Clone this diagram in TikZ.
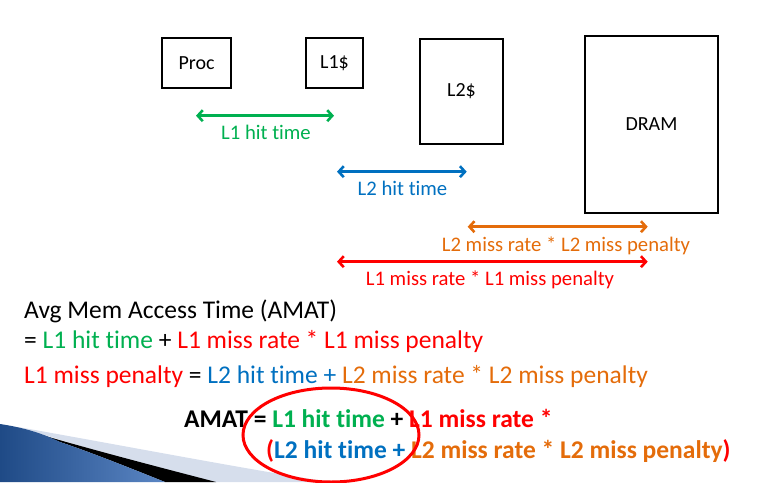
\documentclass[tikz,border=0pt]{standalone}
\usepackage{fontspec}
\setmainfont{Carlito}[Ligatures={NoCommon}]
\usetikzlibrary{arrows.meta}
\definecolor{grn}{HTML}{00B050}
\definecolor{rd}{HTML}{FF0000}
\definecolor{blu}{HTML}{0070C0}
\definecolor{org}{HTML}{E46C0A}
\definecolor{swdark}{HTML}{1F4A86}
\definecolor{swlight}{HTML}{5B86C4}
\definecolor{swband}{HTML}{D6DEEC}
\tikzset{
  box/.style={draw=black, line width=2pt, inner sep=0pt, font=\fontsize{20}{24}\selectfont},
  harrow/.style={line width=2.6pt, {Straight Barb[length=5pt,width=11pt]}-{Straight Barb[length=5pt,width=11pt]}},
  lbl/.style={anchor=base, inner sep=0pt, font=\fontsize{20.7}{24}\selectfont},
  eqn/.style={anchor=base west, inner sep=0pt, font=\fontsize{25.5}{28}\selectfont},
  beqn/.style={anchor=base west, inner sep=0pt, font=\fontsize{25.5}{28}\selectfont\bfseries},
}
\begin{document}
\begin{tikzpicture}[x=1pt,y=-1pt]
\useasboundingbox (0,0) rectangle (763,482);
% swoosh decoration
\fill[swband] (18,427) .. controls (120,445) and (250,470) .. (330,482) -- (200,482) -- cycle;
\fill[black] (42,435) .. controls (100,452) and (170,470) .. (216,482) -- (165,482) .. controls (130,468) and (90,452) .. (60,442) -- cycle;
\shade[left color=swdark, right color=swlight] (0,424) .. controls (20,427) and (40,432) .. (60,442) .. controls (90,452) and (130,468) .. (165,482) -- (0,482) -- cycle;
% boxes
\node[box, minimum width=69pt, minimum height=50pt] (proc) at (196.5,63) {Proc};
\node[box, minimum width=57pt, minimum height=50pt] (l1) at (334.5,63) {L1\$};
\node[box, minimum width=83pt, minimum height=105pt] (l2) at (461.5,91.5) {L2\$};
\node[box, minimum width=133pt, minimum height=177pt] (dram) at (651.5,124.5) {DRAM};
% arrow end points
\coordinate (ga) at (196,115.7);
\coordinate (gb) at (334,115.7);
\coordinate (ba) at (337,171.7);
\coordinate (bb) at (466.7,171.7);
\coordinate (oa) at (467.7,226.7);
\coordinate (ob) at (647.7,226.7);
\coordinate (ra) at (337,261.7);
\coordinate (rb) at (647.7,261.7);
\draw[harrow, grn] (ga) -- (gb);
\draw[harrow, blu] (ba) -- (bb);
\draw[harrow, org] (oa) -- (ob);
\draw[harrow, rd] (ra) -- (rb);
\node[lbl, text=grn] (gl) at (266,139) {L1 hit time};
\node[lbl, text=blu] (bl) at (402.5,195) {L2 hit time};
\node[lbl, text=org] (ol) at (566,251.5) {L2 miss rate * L2 miss penalty};
\node[lbl, text=rd] (rl) at (490,285) {L1 miss rate * L1 miss penalty};
% equations
\node[eqn] (e1) at (24,318) {Avg Mem Access Time (AMAT)};
\node[eqn] (e2) at (24,348) {= \textcolor{grn}{L1 hit time} + \textcolor{rd}{L1 miss rate * L1 miss penalty}};
\node[eqn] (e3) at (24,383) {\textcolor{rd}{L1 miss penalty} = \textcolor{blu}{L2 hit time + }\textcolor{org}{L2 miss rate * L2 miss penalty}};
\node[beqn] (e4) at (184,427) {AMAT = \textcolor{grn}{L1 hit time} + \textcolor{rd}{L1 miss rate *}};
\node[beqn] (e5) at (266,458) {\textcolor{rd}{(}\textcolor{blu}{L2 hit time +} \textcolor{org}{L2 miss rate * L2 miss penalty}\textcolor{rd}{)}};
% red ellipse
\draw[rd, line width=3pt] (331,435) ellipse [x radius=88, y radius=47];
\end{tikzpicture}
\end{document}
